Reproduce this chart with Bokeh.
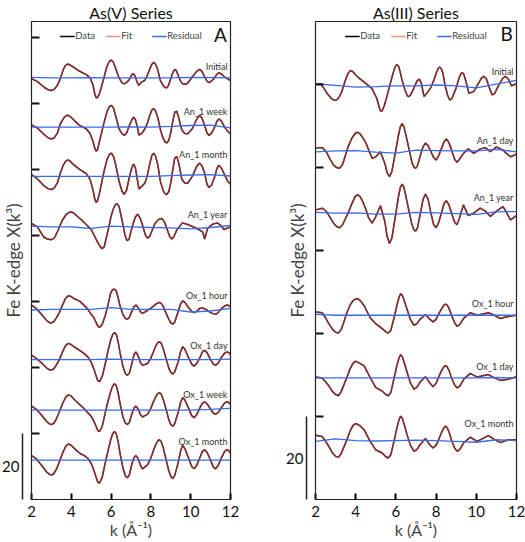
from bokeh.plotting import figure
from bokeh.models import LinearAxis, FixedTicker, Legend, LegendItem, Range1d
from bokeh.layouts import row
from bokeh.embed import file_html
from bokeh.resources import INLINE
from bokeh.core.properties import value

# ---------------- data ----------------
x_ticks = [2, 4, 6, 8, 10, 12]
k_res = [2, 3, 4, 5, 6, 7, 8, 9, 10, 11, 12]

# Panel A : As(V) series
names_A = ["Initial", "An_1 week", "An_1 month", "An_1 year",
           "Ox_1 hour", "Ox_1 day", "Ox_1 week", "Ox_1 month"]
offsets_A = [127.7, 112.8, 97.9, 82.6, 57.6, 42.4, 27.1, 11.9]
ticks_A = [20, 40, 60, 80, 100, 120, 140]

k_A_initial = [2.0, 2.3, 2.65, 2.85, 3.0, 3.15, 3.3, 3.45, 3.6, 3.7, 3.8, 3.92, 4.05, 4.4, 4.75,
               4.95, 5.1, 5.18, 5.25, 5.32, 5.4, 5.52, 5.65, 5.78, 5.9, 6.0, 6.1, 6.2, 6.4,
               6.55, 6.65, 6.75, 6.9, 7.05, 7.12, 7.2, 7.3, 7.38, 7.45, 7.55, 7.7, 7.82, 7.92,
               8.03, 8.13, 8.22, 8.32, 8.47, 8.63, 8.72, 8.8, 8.88, 8.97, 9.1, 9.2, 9.28, 9.37,
               9.48, 9.58, 9.7, 9.83, 10.08, 10.3, 10.45, 10.57, 10.7, 10.82, 10.92, 11.03,
               11.17, 11.3, 11.42, 11.55, 11.7, 11.85, 12.0]
chi_A_initial = [-0.2, -1.1, -2.9, -3.6, -3.8, -3.4, -2.2, -0.2, 2.6, 3.7, 4.2, 4.0, 3.5, 2.1,
                 1.0, 0.0, -2.3, -4.8, -6.0, -5.9, -5.0, -2.6, 0.3, 3.3, 4.9, 5.4, 4.9, 3.4,
                 0.0, -1.5, -1.8, -1.5, -0.6, 1.0, 1.3, 0.7, -1.2, -2.2, -1.8, -1.2, -0.7, 0.8,
                 2.3, 4.0, 4.7, 4.3, 3.0, -0.7, -2.4, -2.9, -3.0, -2.3, -0.7, 1.6, 2.6, 2.2,
                 0.8, -0.8, -1.7, -1.9, -1.7, 0.3, 2.0, 2.6, 2.0, 0.3, -1.0, -1.4, -1.0, -0.2,
                 1.0, 1.6, 1.2, 0.3, -0.3, -0.7]
k_A_an = [2.0, 2.3, 2.65, 2.85, 3.0, 3.15, 3.3, 3.45, 3.6, 3.72, 3.82, 3.95, 4.1, 4.4, 4.75,
          4.95, 5.1, 5.18, 5.25, 5.32, 5.42, 5.55, 5.68, 5.8, 5.92, 6.02, 6.12, 6.22, 6.4, 6.55,
          6.66, 6.78, 6.92, 7.05, 7.13, 7.22, 7.32, 7.4, 7.55, 7.7, 7.82, 7.94, 8.05, 8.14,
          8.23, 8.35, 8.48, 8.62, 8.72, 8.8, 8.9, 9.0, 9.1, 9.2, 9.3, 9.4, 9.55, 9.7, 9.85,
          10.08, 10.3, 10.45, 10.57, 10.7, 10.82, 10.92, 11.05, 11.2, 11.32, 11.42, 11.55,
          11.7, 11.85, 12.0]
chi_A_an_week = [0.7, -0.3, -2.3, -3.3, -3.6, -3.2, -1.8, 1.0, 2.6, 3.4, 3.6, 3.2, 2.3, 0.6,
                 -0.5, -2.0, -4.5, -6.4, -7.3, -6.8, -4.2, -1.0, 2.2, 4.8, 6.3, 6.6, 5.8, 3.6,
                 -0.5, -2.0, -2.5, -1.8, 0.5, 2.3, 3.0, 2.3, 0.0, -2.4, -1.8, -0.5, 1.2, 3.5,
                 5.2, 5.6, 5.0, 2.8, -0.8, -3.5, -4.5, -4.8, -4.0, -1.6, 1.8, 4.5, 4.8, 2.8,
                 -0.8, -1.9, -2.0, -0.5, 2.4, 3.6, 2.8, 0.5, -1.8, -2.5, -1.8, 0.0, 1.8, 2.5,
                 1.8, 0.0, -1.2, -2.0]
chi_A_an_month = [0.5, -0.8, -3.0, -3.8, -4.0, -3.5, -2.0, 1.0, 3.4, 4.6, 5.0, 4.6, 3.6, 2.2,
                  0.8, -1.0, -4.5, -6.9, -7.9, -7.4, -5.0, -1.2, 2.4, 5.2, 6.7, 7.0, 6.0, 3.8,
                  -1.5, -4.5, -5.5, -4.2, -0.2, 2.8, 3.7, 2.6, -1.0, -3.8, -3.0, -2.0, 0.2,
                  3.8, 6.4, 7.0, 6.2, 3.4, -1.6, -4.4, -5.3, -5.5, -4.6, -2.0, 2.0, 5.5, 6.0,
                  4.0, -0.8, -2.0, -2.1, 0.0, 3.0, 4.0, 3.1, 1.0, -2.4, -3.4, -2.6, -0.2, 2.4,
                  3.4, 2.4, 0.5, -1.4, -2.4]
k_A_an_year = [2.0, 2.3, 2.6, 2.8, 3.0, 3.15, 3.3, 3.55, 3.75, 3.9, 4.0, 4.12, 4.3, 4.5, 4.75,
               5.0, 5.3, 5.45, 5.55, 5.65, 5.85, 6.0, 6.12, 6.22, 6.3, 6.4, 6.55, 6.7, 6.8,
               6.9, 7.08, 7.22, 7.33, 7.45, 7.58, 7.72, 7.83, 7.95, 8.2, 8.4, 8.55, 8.68, 8.8,
               8.95, 9.05, 9.15, 9.3, 9.58, 9.85, 10.25, 10.6, 10.7, 10.85, 11.1, 11.33, 11.5,
               11.67, 12.0]
chi_A_an_year = [1.0, 0.0, -3.0, -3.7, -3.9, -3.4, -1.5, 2.0, 3.8, 4.4, 4.5, 4.2, 3.2, 2.2,
                 0.7, -0.8, -4.4, -6.0, -6.6, -6.1, -1.0, 3.2, 5.6, 6.7, 7.0, 6.2, 2.0, -2.6,
                 -4.2, -3.8, 0.5, 3.0, 3.8, 2.8, 0.5, -2.4, -3.4, -2.8, 1.0, 2.3, 2.5, 1.5,
                 -0.5, -3.0, -3.7, -3.0, -1.0, 1.2, 0.7, -0.3, -1.5, -3.7, -0.5, 0.8, 1.2, 0.5,
                 -0.8, 0.0]
k_A_ox = [2.0, 2.25, 2.5, 2.75, 2.9, 3.0, 3.12, 3.25, 3.4, 3.58, 3.72, 3.85, 3.98, 4.15, 4.42,
          4.65, 4.83, 5.0, 5.12, 5.25, 5.33, 5.42, 5.55, 5.7, 5.85, 5.98, 6.08, 6.17, 6.26,
          6.35, 6.45, 6.6, 6.72, 6.82, 6.92, 7.05, 7.16, 7.25, 7.35, 7.48, 7.58, 7.7, 7.83,
          7.98, 8.12, 8.25, 8.35, 8.43, 8.52, 8.62, 8.75, 8.9, 9.0, 9.1, 9.2, 9.38, 9.5, 9.6,
          9.7, 9.9, 10.05, 10.17, 10.3, 10.45, 10.58, 10.7, 10.82, 11.0, 11.13, 11.25, 11.38,
          11.55, 11.7, 11.83, 11.93, 12.0]
chi_A_ox_hour = [1.3, 0.2, -1.5, -3.3, -4.0, -4.1, -3.7, -2.6, -1.0, 1.6, 3.4, 4.1, 3.9, 3.2,
                 2.5, 1.2, 0.0, -1.5, -2.4, -4.0, -5.0, -5.5, -4.6, -2.0, 1.5, 5.0, 6.0, 6.1,
                 5.6, 3.6, 1.0, -1.6, -2.8, -3.0, -2.4, -0.5, 0.9, 1.3, 0.6, -0.8, -1.2, -0.8,
                 -0.3, 0.3, 0.9, 1.6, 2.0, 2.1, 1.8, 0.9, -1.0, -3.0, -4.1, -4.5, -3.8, -0.5,
                 1.8, 2.6, 2.2, 0.5, -0.6, -1.0, -0.6, 0.3, 0.4, 0.2, -0.2, -1.0, -1.3, -1.5,
                 -1.0, 0.3, 1.0, 1.3, 1.1, 0.8]
chi_A_ox_day = [1.3, 0.3, -1.0, -2.5, -3.1, -3.2, -2.8, -1.6, 0.0, 2.6, 4.3, 4.9, 4.6, 3.8, 2.8,
                1.8, 0.8, -0.8, -2.6, -5.0, -6.4, -6.7, -5.2, -1.5, 2.8, 5.9, 7.6, 8.2, 7.6,
                5.5, 2.0, -2.2, -4.3, -4.8, -4.1, -1.0, 1.6, 2.3, 1.2, -1.0, -1.7, -1.5, -1.2,
                0.2, 2.2, 4.2, 5.1, 5.4, 4.9, 3.3, 0.5, -2.6, -3.9, -4.4, -3.7, -0.5, 2.6, 3.9,
                3.2, 0.5, -1.4, -2.0, -1.2, 0.4, 2.2, 2.8, 2.1, 0.0, -1.3, -1.8, -1.1, 0.7,
                1.9, 2.3, 2.0, 1.5]
chi_A_ox_week = [1.2, 0.2, -1.5, -3.4, -4.2, -4.4, -4.0, -2.7, -0.5, 2.2, 3.9, 4.6, 4.3, 3.2,
                 1.7, 0.4, -0.8, -1.9, -3.2, -5.0, -6.2, -6.5, -5.0, -1.0, 2.8, 5.7, 7.3, 8.0,
                 7.4, 5.3, 2.0, -2.2, -4.0, -4.4, -3.7, -1.0, 0.7, 1.2, 0.4, -1.4, -2.1, -1.7,
                 -1.3, 0.3, 2.4, 4.1, 5.0, 5.3, 4.8, 3.2, 0.5, -2.9, -4.4, -4.9, -4.1, -0.5,
                 2.5, 3.8, 3.1, 0.5, -1.7, -2.3, -1.4, 0.5, 2.0, 2.5, 1.9, 0.3, -0.9, -1.3,
                 -0.8, 0.8, 2.1, 2.5, 2.2, 1.7]
chi_A_ox_month = [1.4, 0.4, -1.5, -3.5, -4.3, -4.5, -4.1, -2.8, -0.5, 2.4, 4.2, 4.9, 4.6, 3.6,
                  2.1, 1.4, 0.6, -1.0, -2.8, -5.2, -6.6, -6.9, -5.2, -1.0, 3.0, 6.2, 8.0, 8.7,
                  8.0, 5.8, 2.0, -2.5, -4.8, -5.3, -4.4, -1.0, 0.9, 1.4, 0.6, -1.6, -2.6, -2.0,
                  -1.4, 0.4, 2.8, 4.8, 5.9, 6.2, 5.6, 3.8, 0.5, -3.2, -4.9, -5.5, -4.6, -0.5,
                  3.0, 4.5, 3.6, 0.5, -1.9, -2.6, -1.6, 0.6, 2.6, 3.2, 2.4, 0.0, -2.0, -2.6,
                  -1.6, 0.8, 2.6, 3.2, 2.8, 2.1]
res_A_initial = [0.2, 0.0, 0.0, 0.1, 0.0, 0.0, 0.0, 0.0, 0.2, 0.1, 0.0]
res_A_an_week = [0.0, 0.0, 0.0, 0.0, 0.0, 0.1, 0.0, 0.2, 0.5, 0.6, -0.2]
res_A_an_month = [0.0, 0.0, 0.0, 0.0, 0.0, 0.0, 0.0, 0.2, 0.4, 0.5, 0.1]
res_A_an_year = [0.2, 0.0, 0.0, -0.5, 0.2, 0.0, -0.2, -0.3, -0.6, -0.2, 0.4]
res_A_ox_hour = [-0.2, 0.0, 0.0, 0.0, 0.5, 0.0, 0.0, 0.0, -0.8, -0.5, 0.3]
res_A_ox_day = [0.0, 0.0, 0.0, 0.0, 0.1, 0.0, 0.0, 0.0, 0.0, 0.0, 0.1]
res_A_ox_week = [0.0, 0.0, 0.0, 0.0, 0.0, 0.0, 0.0, 0.0, 0.0, 0.2, 0.5]
res_A_ox_month = [0.0, 0.0, 0.0, 0.0, 0.0, 0.0, 0.0, 0.0, 0.0, 0.0, 0.0]

# Panel B : As(III) series
names_B = ["Initial", "An_1 day", "An_1 year", "Ox_1 hour", "Ox_1 day", "Ox_1 month"]
offsets_B = [99.7, 84.0, 69.0, 44.4, 29.3, 14.2]
ticks_B = [20, 40, 60, 80, 100]

k_B_initial = [2.0, 2.25, 2.45, 2.6, 2.8, 2.9, 3.0, 3.1, 3.2, 3.3, 3.5, 3.62, 3.74, 3.86, 4.0,
               4.15, 4.5, 4.8, 5.05, 5.15, 5.22, 5.27, 5.33, 5.42, 5.5, 5.65, 5.8, 5.93, 6.0,
               6.06, 6.13, 6.2, 6.3, 6.45, 6.57, 6.64, 6.72, 6.9, 7.05, 7.17, 7.27, 7.4, 7.6,
               7.75, 7.9, 8.03, 8.12, 8.19, 8.26, 8.34, 8.45, 8.58, 8.67, 8.72, 8.8, 9.0, 9.15,
               9.25, 9.3, 9.38, 9.5, 9.63, 9.87, 10.1, 10.25, 10.37, 10.5, 10.65, 10.79,
               10.92, 11.1, 11.3, 11.45, 11.6, 11.75, 12.0]
chi_B_initial = [0.5, 0.5, -0.8, -2.0, -3.1, -3.4, -3.5, -3.2, -2.5, -1.5, 1.5, 3.0, 3.7, 3.4,
                 2.6, 1.9, 0.6, -0.6, -3.0, -4.8, -5.9, -6.2, -5.9, -4.8, -3.5, -0.8, 2.0, 4.2,
                 4.9, 5.1, 4.7, 3.6, 1.5, -1.0, -2.4, -2.6, -2.3, -0.5, 1.2, 1.6, 0.5, -2.6,
                 -1.4, -0.3, 1.5, 3.4, 4.3, 4.5, 4.1, 3.0, 0.0, -2.4, -3.3, -3.4, -2.9, -0.5,
                 2.0, 3.0, 3.2, 2.8, 0.8, -1.8, -1.4, 0.5, 1.8, 2.3, 1.7, -0.5, -2.2, -1.8,
                 0.0, 1.7, 2.3, 1.6, 0.0, 0.5]
k_B_an = [2.0, 2.35, 2.55, 2.7, 2.9, 3.05, 3.2, 3.35, 3.48, 3.62, 3.8, 3.97, 4.1, 4.22, 4.35,
          4.5, 4.65, 4.82, 5.0, 5.23, 5.45, 5.56, 5.68, 5.8, 6.0, 6.12, 6.22, 6.31, 6.4, 6.5,
          6.65, 6.8, 6.9, 6.98, 7.07, 7.22, 7.35, 7.47, 7.6, 7.73, 7.88, 8.0, 8.12, 8.26, 8.4,
          8.51, 8.62, 8.77, 8.92, 9.04, 9.16, 9.36, 9.6, 9.87, 10.2, 10.45, 10.7, 11.0,
          11.33, 11.5, 11.7, 12.0]
chi_B_an_day = [0.8, 0.8, -0.3, -1.8, -3.4, -4.0, -4.2, -3.2, -1.2, 1.0, 3.0, 4.2, 4.5, 4.1,
                3.2, 2.0, 0.2, -1.8, -1.4, -0.2, -3.0, -5.2, -6.2, -5.0, 0.3, 3.6, 5.8, 6.6,
                5.8, 3.8, 0.5, -2.8, -3.9, -4.2, -3.6, -1.0, 1.0, 1.9, 1.3, 0.0, -1.6, -2.2,
                -1.2, 0.5, 2.3, 2.9, 2.2, 0.2, -2.0, -2.7, -2.0, -0.6, 0.5, -0.6, 0.5, 0.8,
                -0.2, 1.0, 0.2, -0.6, -1.4, -0.8]
chi_B_an_year = [0.8, 1.2, 0.4, -0.8, -2.4, -3.2, -3.5, -2.8, -1.4, 0.0, 2.2, 4.0, 4.5, 4.0,
                 2.8, 1.0, -1.2, -2.4, -0.8, 1.8, -2.0, -5.5, -7.3, -6.0, 0.0, 3.8, 6.2, 7.0,
                 6.2, 4.0, 0.5, -2.8, -4.0, -4.3, -3.6, 0.0, 3.3, 4.6, 3.4, 0.3, -2.8, -3.5,
                 -2.4, 0.0, 2.4, 3.0, 2.2, 0.0, -2.2, -2.8, -1.2, 2.0, -0.6, 0.0, 1.2, 0.5,
                 -0.8, 0.5, 1.6, 0.2, -1.6, -0.6]
k_B_ox = [2.0, 2.33, 2.5, 2.66, 2.85, 3.0, 3.14, 3.28, 3.4, 3.55, 3.72, 3.86, 3.98, 4.1, 4.25,
          4.42, 4.72, 4.99, 5.32, 5.5, 5.62, 5.75, 5.94, 6.06, 6.16, 6.24, 6.32, 6.42, 6.55,
          6.72, 6.9, 7.05, 7.2, 7.47, 7.65, 7.85, 8.0, 8.15, 8.3, 8.4, 8.48, 8.56, 8.65,
          8.77, 8.92, 9.05, 9.18, 9.38, 9.7, 10.05, 10.6, 10.9, 11.2, 11.58, 12.0]
chi_B_ox_hour = [0.8, 0.6, -0.6, -2.0, -3.4, -4.1, -4.3, -3.4, -1.8, 0.5, 2.4, 3.5, 3.9, 4.0,
                 3.4, 2.3, -0.6, -2.0, -3.2, -4.0, -4.3, -3.6, 0.0, 2.6, 4.4, 5.2, 4.8, 3.4,
                 1.5, -1.0, -2.4, -2.0, -1.0, 0.2, -0.8, -1.6, -1.0, 0.5, 1.8, 2.5, 2.7, 2.4,
                 1.6, 0.0, -1.8, -2.7, -2.2, -0.7, 0.6, 0.0, 0.6, 0.0, -0.8, -0.3, 0.0]
chi_B_ox_day = [0.2, 0.0, -0.9, -1.9, -3.3, -4.0, -4.3, -3.3, -1.8, 0.0, 2.2, 3.5, 4.0, 3.8,
                3.4, 2.9, 0.1, -2.3, -3.2, -4.0, -4.3, -3.5, 0.6, 3.2, 4.9, 5.6, 5.1, 3.6, 1.5,
                -1.2, -2.7, -2.2, -1.0, 0.3, -1.0, -2.1, -1.3, 0.5, 2.0, 2.8, 3.0, 2.6, 1.7,
                0.0, -1.7, -2.4, -2.0, -0.3, 1.1, 0.2, 0.8, 0.0, -0.6, -0.3, 0.3]
chi_B_ox_month = [1.3, 1.0, -0.1, -1.4, -3.0, -3.8, -4.0, -3.1, -1.7, 0.0, 2.3, 3.6, 4.1, 3.9,
                  3.4, 2.6, -0.2, -2.2, -3.0, -3.9, -4.2, -3.4, 0.6, 3.3, 5.1, 5.9, 5.4, 3.8,
                  1.5, -1.1, -2.6, -2.1, -1.0, 0.5, -0.8, -1.8, -1.1, 0.5, 2.3, 3.2, 3.5, 3.0,
                  2.0, 0.0, -1.8, -2.6, -2.1, -0.5, 0.8, -0.2, 1.2, 0.3, -0.5, 0.2, 0.2]
res_B_initial = [0.5, 0.1, -0.3, -0.2, 0.0, 0.0, 0.2, 0.0, -0.5, 0.4, 1.3]
res_B_an_day = [-0.2, 0.0, 0.1, -0.3, -0.5, 0.2, 0.1, 0.0, 0.0, 0.4, -0.2]
res_B_an_year = [0.2, 0.0, 0.1, -0.2, -0.2, 0.2, 0.1, -0.1, -0.3, 0.3, 0.4]
res_B_ox_hour = [0.2, 0.0, 0.0, 0.0, 0.0, 0.0, 0.0, 0.0, 0.0, 0.0, 0.0]
res_B_ox_day = [0.0, 0.0, 0.0, 0.0, 0.0, 0.0, 0.0, 0.0, 0.0, 0.1, 0.0]
res_B_ox_month = [-0.2, 0.4, 0.0, -0.1, 0.0, 0.1, 0.0, -0.2, -0.4, 0.2, 0.0]

scale_bar = (0, 20)

# ---------------- layout / style ----------------
FONT = "Lato"
DATA_C = "#000000"
FIT_C = "#e04848"
RES_C = "#3b6be6"
label_dy_A = [3.4, 4.6, 6.7, 3.7, 4.3, 4.2, 4.6, 5.6]
label_dy_B = [3.4, 2.6, 3.7, 2.8, 2.7, 4.1]
FIG_H = 541


def build(title, ymax, ticks, series, names, offsets, label_dy, letter, letter_y,
          width, mbl, mbr):
    p = figure(width=width, height=FIG_H, x_range=Range1d(2, 12), y_range=Range1d(0, ymax),
               output_backend="svg", toolbar_location=None,
               min_border_left=mbl, min_border_right=mbr, min_border_top=0,
               min_border_bottom=0)
    p.title.text = title
    p.title.align = "center"
    p.title.text_font = FONT
    p.title.text_font_size = "16px"
    p.title.text_font_style = "normal"
    p.title.text_color = "#111111"
    p.title.standoff = 0
    p.xgrid.grid_line_color = None
    p.ygrid.grid_line_color = None
    p.outline_line_color = "#222222"
    p.outline_line_width = 1.2

    xa = p.xaxis[0]
    xa.ticker = FixedTicker(ticks=x_ticks)
    xa.major_tick_in = 6
    xa.major_tick_out = 0
    xa.major_tick_line_width = 2
    xa.minor_tick_in = 0
    xa.minor_tick_out = 0
    xa.axis_line_color = "#222222"
    xa.major_label_text_font = FONT
    xa.major_label_text_font_size = "15px"
    xa.major_label_text_color = "#111111"
    xa.major_label_standoff = 6
    xa.axis_label = "k (Å⁻¹)"
    xa.axis_label_text_font = FONT
    xa.axis_label_text_font_size = "16px"
    xa.axis_label_text_font_style = "normal"
    xa.axis_label_standoff = 0

    # frame axis: black inside ticks (minor) + white outward ticks that open a gap
    ya = p.yaxis[0]
    ya.ticker = FixedTicker(ticks=ticks, minor_ticks=ticks)
    ya.major_tick_in = 0
    ya.major_tick_out = 9
    ya.major_tick_line_color = "#ffffff"
    ya.major_tick_line_width = 1
    ya.major_label_overrides = {t: "" for t in ticks}
    ya.major_label_standoff = 0
    ya.minor_tick_in = 8
    ya.minor_tick_out = 0
    ya.minor_tick_line_width = 2
    ya.minor_tick_line_color = "#111111"
    ya.axis_line_color = "#222222"

    mid = (scale_bar[0] + scale_bar[1]) / 2
    sa = LinearAxis(bounds=scale_bar, ticker=FixedTicker(ticks=[mid]),
                    major_label_overrides={mid: str(scale_bar[1] - scale_bar[0])})
    sa.major_tick_in = 0
    sa.major_tick_out = 0
    sa.minor_tick_in = 0
    sa.minor_tick_out = 0
    sa.axis_line_width = 1.5
    sa.axis_line_color = "#222222"
    sa.major_label_text_font = FONT
    sa.major_label_text_font_size = "15px"
    sa.major_label_text_color = "#111111"
    sa.major_label_standoff = 3
    sa.axis_label = "Fe K-edge X(k³)"
    sa.axis_label_text_font = FONT
    sa.axis_label_text_font_size = "17px"
    sa.axis_label_text_font_style = "normal"
    sa.axis_label_standoff = -25
    p.add_layout(sa, "left")

    first = None
    for (k, chi, res), off in zip(series, offsets):
        n = min(len(k), len(chi))
        yd = [c + off for c in chi[:n]]
        rd = p.line(k[:n], yd, line_color=DATA_C, line_width=1.5)
        rf = p.line(k[:n], yd, line_color=FIT_C, line_alpha=0.6, line_width=1.5)
        rr = p.line(k_res, [r + off for r in res], line_color=RES_C, line_width=1.3)
        if first is None:
            first = (rd, rf, rr)

    p.text(x=[11.85] * len(names), y=[o + d for o, d in zip(offsets, label_dy)], text=names,
           text_align="right", text_baseline="middle", text_font=value(FONT),
           text_font_size="9px", text_color="#333333")
    p.text(x=[11.82], y=[letter_y], text=[letter], text_align="right",
           text_baseline="middle", text_font=value(FONT), text_font_size="19px",
           text_color="#111111")

    leg = Legend(items=[LegendItem(label="Data", renderers=[first[0]]),
                        LegendItem(label="Fit", renderers=[first[1]]),
                        LegendItem(label="Residual", renderers=[first[2]])],
                 orientation="horizontal", location="top_center",
                 border_line_color=None, background_fill_alpha=0,
                 label_text_font=FONT, label_text_font_size="9.5px",
                 glyph_width=15, glyph_height=10, label_standoff=1, spacing=10,
                 padding=2, margin=9)
    p.add_layout(leg)
    return p


series_A = [(k_A_initial, chi_A_initial, res_A_initial),
            (k_A_an, chi_A_an_week, res_A_an_week),
            (k_A_an, chi_A_an_month, res_A_an_month),
            (k_A_an_year, chi_A_an_year, res_A_an_year),
            (k_A_ox, chi_A_ox_hour, res_A_ox_hour),
            (k_A_ox, chi_A_ox_day, res_A_ox_day),
            (k_A_ox, chi_A_ox_week, res_A_ox_week),
            (k_A_ox, chi_A_ox_month, res_A_ox_month)]
series_B = [(k_B_initial, chi_B_initial, res_B_initial),
            (k_B_an, chi_B_an_day, res_B_an_day),
            (k_B_an, chi_B_an_year, res_B_an_year),
            (k_B_ox, chi_B_ox_hour, res_B_ox_hour),
            (k_B_ox, chi_B_ox_day, res_B_ox_day),
            (k_B_ox, chi_B_ox_month, res_B_ox_month)]

pA = build("As(V) Series", 144.8, ticks_A, series_A, names_A, offsets_A, label_dy_A,
           "A", 140.8, 265, 28, 35)
pB = build("As(III) Series", 115.2, ticks_B, series_B, names_B, offsets_B, label_dy_B,
           "B", 112.2, 260, 50, 9)

layout = row(pA, pB)
open("out.html", "w").write(file_html(layout, INLINE))
